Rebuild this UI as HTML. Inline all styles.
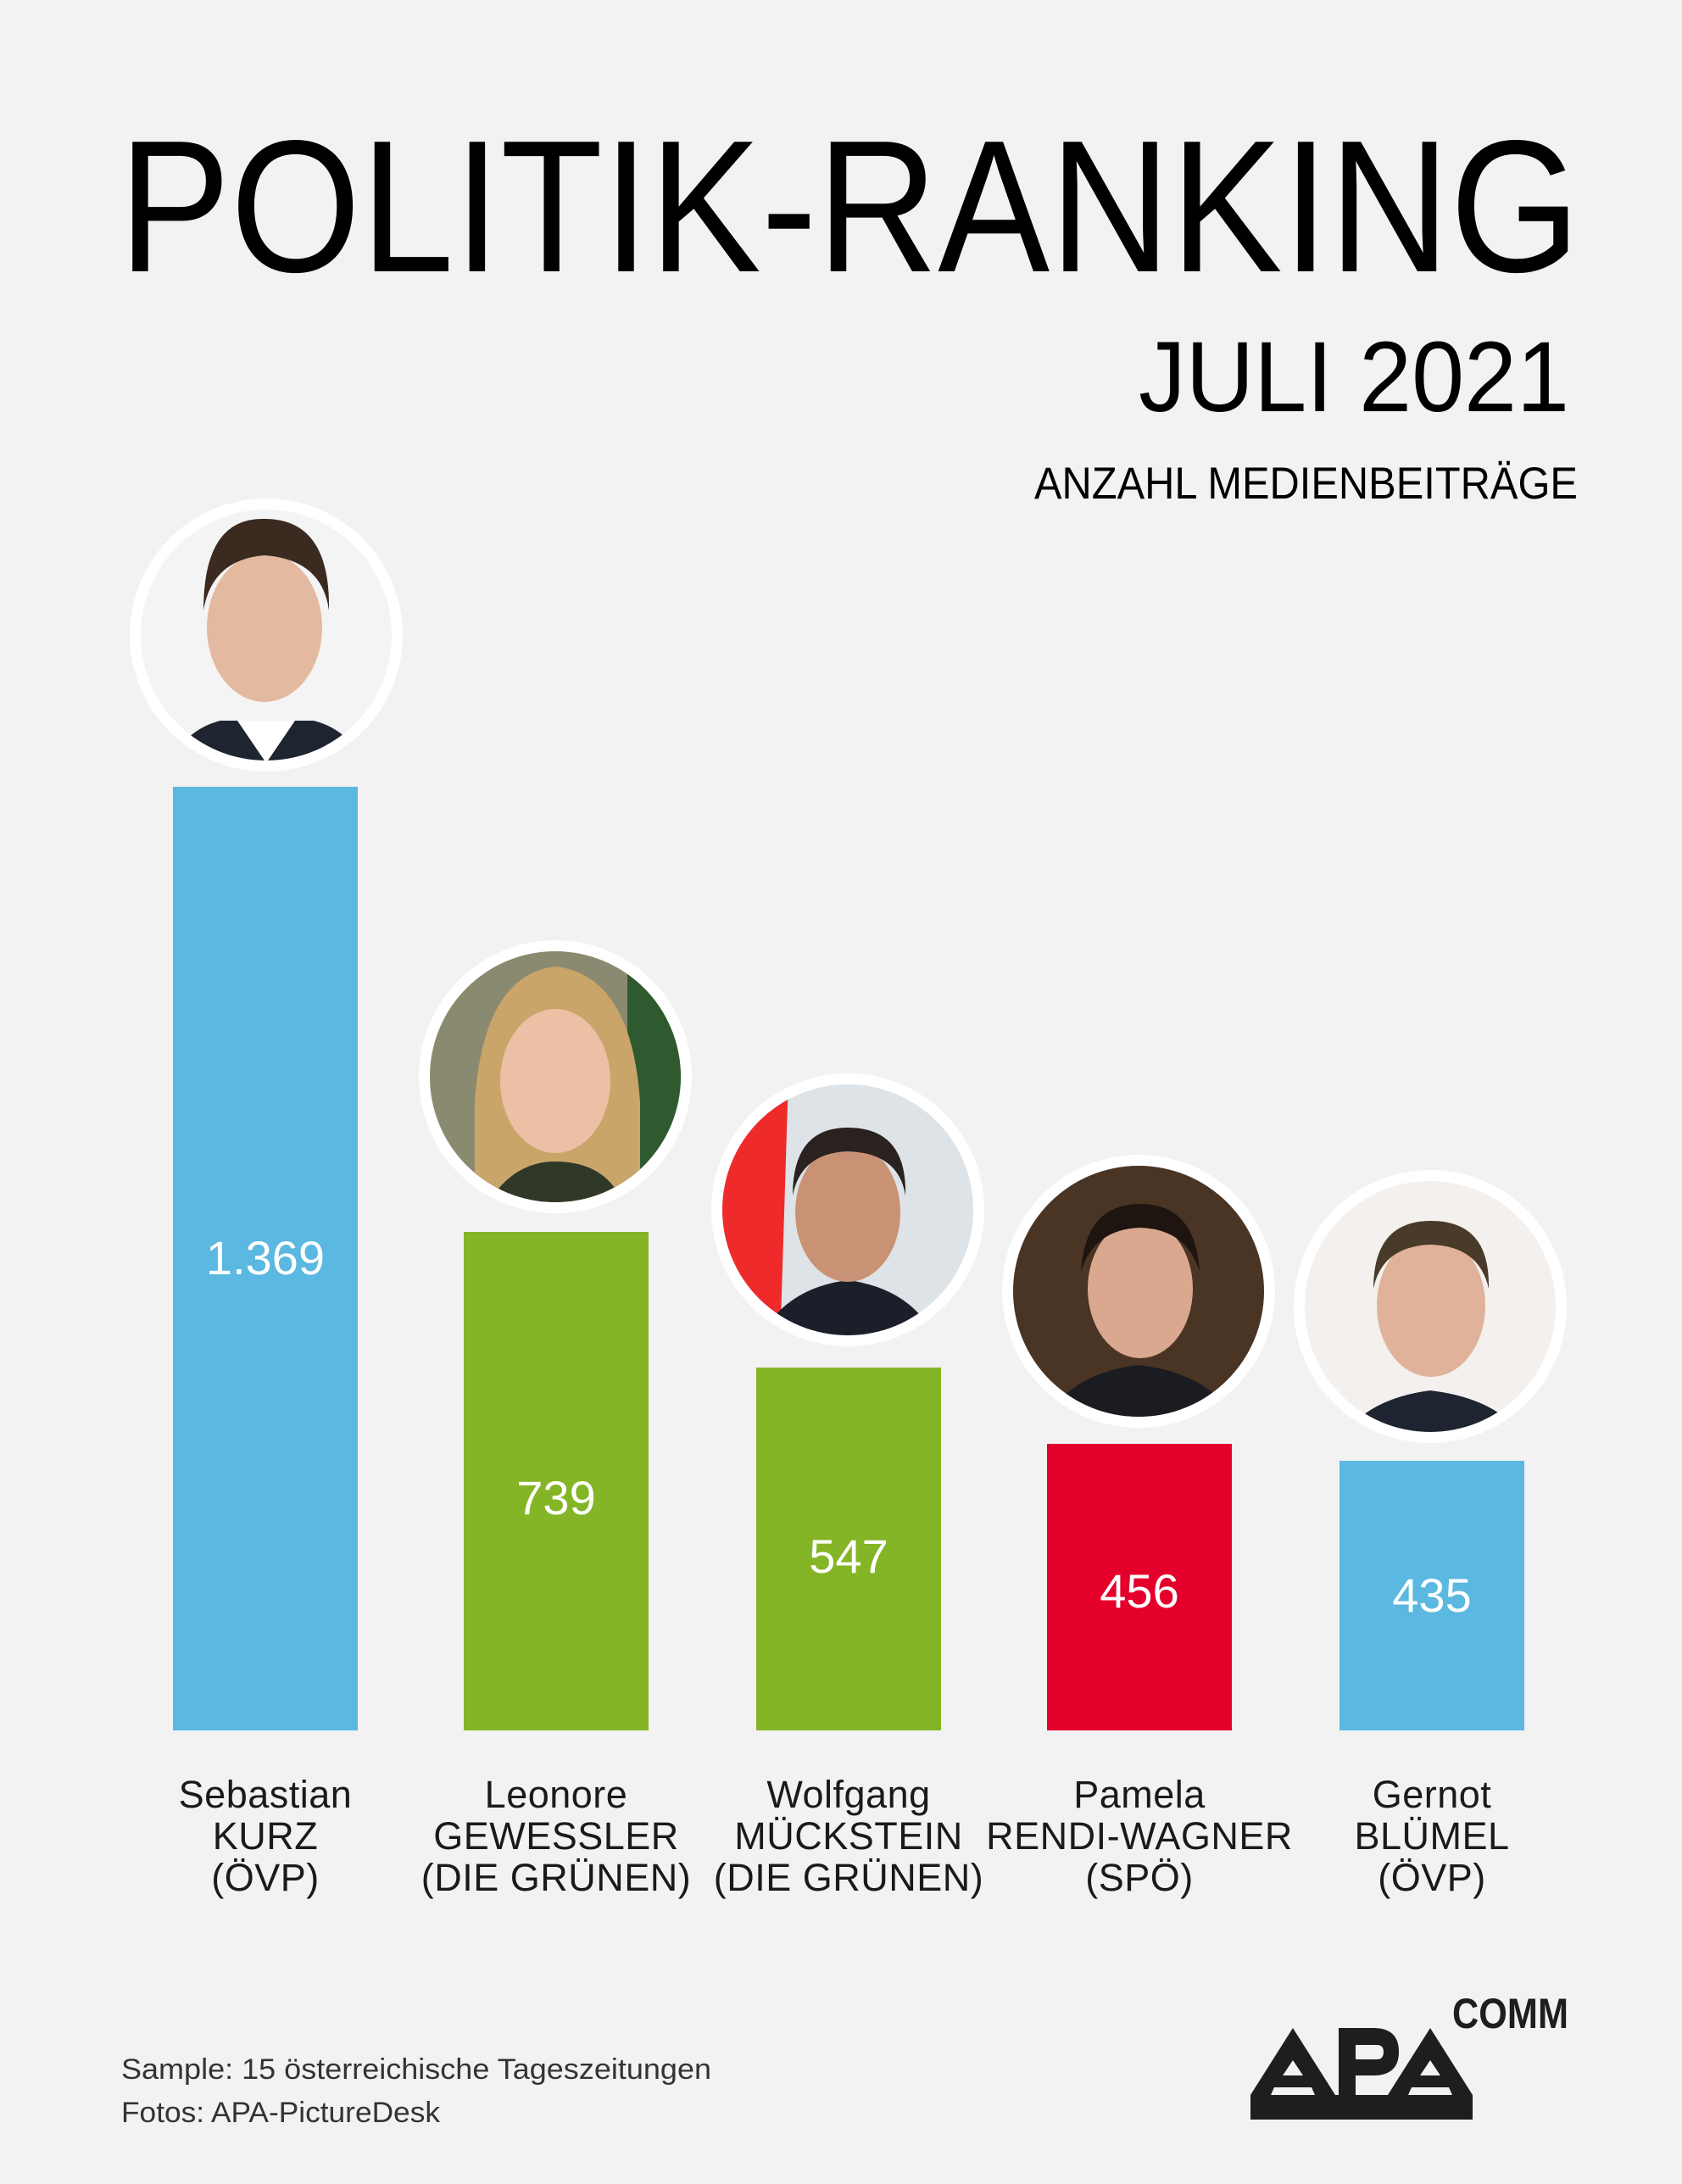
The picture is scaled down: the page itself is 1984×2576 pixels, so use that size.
<!DOCTYPE html>
<html><head><meta charset="utf-8"><style>
html,body{margin:0;padding:0;background:#f2f2f2}
svg{display:block}
text{font-family:"Liberation Sans",sans-serif}
</style></head><body>
<svg width="1984" height="2576" viewBox="0 0 1984 2576" xmlns="http://www.w3.org/2000/svg">
<rect width="1984" height="2576" fill="#f2f2f2"/>
<text x="140" y="320" font-size="222" textLength="1724" lengthAdjust="spacingAndGlyphs" fill="#000">POLITIK-RANKING</text>
<text x="1343" y="485" font-size="118" textLength="508" lengthAdjust="spacingAndGlyphs" fill="#000">JULI 2021</text>
<text x="1220" y="588" font-size="53" textLength="641" lengthAdjust="spacingAndGlyphs" fill="#000">ANZAHL MEDIENBEITRÄGE</text>

<!-- bars -->
<rect x="204" y="928" width="218" height="1113" fill="#5bb8e0"/>
<rect x="547" y="1453" width="218" height="588" fill="#84b526"/>
<rect x="892" y="1613" width="218" height="428" fill="#84b526"/>
<rect x="1235" y="1703" width="218" height="338" fill="#e4002b"/>
<rect x="1580" y="1723" width="218" height="318" fill="#5bb8e0"/>

<g font-size="56" fill="#fff" text-anchor="middle">
<text x="313" y="1503">1.369</text>
<text x="656" y="1786">739</text>
<text x="1001" y="1855">547</text>
<text x="1344" y="1896">456</text>
<text x="1689" y="1901">435</text>
</g>

<!-- portraits -->
<defs>
<clipPath id="c1"><circle cx="314" cy="749" r="148"/></clipPath>
<clipPath id="c2"><circle cx="655" cy="1270" r="148"/></clipPath>
<clipPath id="c3"><circle cx="1000" cy="1427" r="148"/></clipPath>
<clipPath id="c4"><circle cx="1343" cy="1523" r="148"/></clipPath>
<clipPath id="c5"><circle cx="1687" cy="1541" r="148"/></clipPath>
</defs>
<g>
<circle cx="314" cy="749" r="161" fill="#fff"/>
<g clip-path="url(#c1)"><rect x="160" y="590" width="310" height="310" fill="#f4f4f4"/>
<path d="M200 900 Q220 860 260 850 L370 850 Q410 860 430 900Z" fill="#1e2430"/>
<path d="M280 850 L314 900 L348 850Z" fill="#fff"/>
<ellipse cx="312" cy="740" rx="68" ry="88" fill="#e3b9a0"/>
<path d="M240 720 Q240 610 312 612 Q390 612 388 720 Q380 660 312 655 Q250 660 240 720Z" fill="#3a2a20"/></g>
<circle cx="655" cy="1270" r="161" fill="#fff"/>
<g clip-path="url(#c2)"><rect x="500" y="1110" width="310" height="320" fill="#8a8a70"/>
<rect x="740" y="1110" width="80" height="320" fill="#2f5a2f"/>
<path d="M560 1300 Q570 1150 655 1140 Q745 1150 755 1300 L755 1420 L560 1420Z" fill="#c9a56a"/>
<ellipse cx="655" cy="1275" rx="65" ry="85" fill="#ecc0a4"/>
<path d="M570 1430 Q600 1370 655 1370 Q720 1370 740 1430Z" fill="#303828"/></g>
<circle cx="1000" cy="1427" r="161" fill="#fff"/>
<g clip-path="url(#c3)"><rect x="840" y="1270" width="320" height="320" fill="#dde3e6"/>
<path d="M840 1270 L930 1270 L920 1590 L840 1590Z" fill="#ee2a2a"/>
<path d="M890 1590 Q920 1520 1000 1510 Q1080 1520 1110 1590Z" fill="#1a1f2a"/>
<ellipse cx="1000" cy="1430" rx="62" ry="82" fill="#c99275"/>
<path d="M935 1410 Q935 1330 1000 1330 Q1070 1330 1068 1410 Q1060 1360 1000 1358 Q945 1360 935 1410Z" fill="#2a2220"/></g>
<circle cx="1343" cy="1523" r="161" fill="#fff"/>
<g clip-path="url(#c4)"><rect x="1190" y="1370" width="310" height="310" fill="#4a3424"/>
<path d="M1230 1680 Q1260 1620 1343 1610 Q1430 1620 1460 1680Z" fill="#1b1b22"/>
<ellipse cx="1345" cy="1520" rx="62" ry="82" fill="#d9a88e"/>
<path d="M1275 1500 Q1280 1420 1345 1420 Q1410 1420 1415 1500 Q1400 1450 1345 1448 Q1290 1450 1275 1500Z" fill="#1e1410"/></g>
<circle cx="1687" cy="1541" r="161" fill="#fff"/>
<g clip-path="url(#c5)"><rect x="1530" y="1390" width="320" height="310" fill="#f3f0ee"/>
<path d="M1580 1700 Q1610 1650 1687 1640 Q1770 1650 1800 1700Z" fill="#1e2430"/>
<ellipse cx="1688" cy="1540" rx="64" ry="84" fill="#e0b29a"/>
<path d="M1620 1520 Q1620 1440 1688 1440 Q1758 1440 1756 1520 Q1745 1470 1688 1468 Q1630 1470 1620 1520Z" fill="#4a3a2a"/></g>
</g>

<!-- labels -->
<g font-size="45" fill="#1a1a1a" text-anchor="middle" letter-spacing="0.5">
<text x="313" y="2132">Sebastian</text><text x="313" y="2181">KURZ</text><text x="313" y="2230">(ÖVP)</text>
<text x="656" y="2132">Leonore</text><text x="656" y="2181">GEWESSLER</text><text x="656" y="2230">(DIE GRÜNEN)</text>
<text x="1001" y="2132">Wolfgang</text><text x="1001" y="2181">MÜCKSTEIN</text><text x="1001" y="2230">(DIE GRÜNEN)</text>
<text x="1344" y="2132">Pamela</text><text x="1344" y="2181">RENDI-WAGNER</text><text x="1344" y="2230">(SPÖ)</text>
<text x="1689" y="2132">Gernot</text><text x="1689" y="2181">BLÜMEL</text><text x="1689" y="2230">(ÖVP)</text>
</g>

<g font-size="34" fill="#333">
<text x="143" y="2452" textLength="696" lengthAdjust="spacingAndGlyphs">Sample: 15 österreichische Tageszeitungen</text>
<text x="143" y="2503" textLength="376" lengthAdjust="spacingAndGlyphs">Fotos: APA-PictureDesk</text>
</g>

<!-- logo -->
<g fill="#1e1e1c" fill-rule="evenodd">
<path d="M1475 2471 L1525 2392 L1575 2471 Z M1513 2448 L1525 2430 L1537 2448 Z M1499 2471 L1503 2462 L1547 2462 L1551 2471 Z"/>
<path d="M1579 2392 L1620 2392 Q1650 2392 1650 2420 Q1650 2448 1620 2448 L1599 2448 L1599 2471 L1579 2471 Z M1599 2412 L1599 2429 L1624 2429 Q1632 2429 1632 2420 Q1632 2412 1624 2412 Z"/>
<path d="M1637 2471 L1687 2392 L1737 2471 Z M1675 2448 L1687 2430 L1699 2448 Z M1661 2471 L1665 2462 L1709 2462 L1713 2471 Z"/>
<rect x="1475" y="2471" width="262" height="29"/>
</g>
<text x="1713" y="2392" font-size="50" font-weight="bold" textLength="137" lengthAdjust="spacingAndGlyphs" fill="#1e1e1c">COMM</text>
</svg>
</body></html>
